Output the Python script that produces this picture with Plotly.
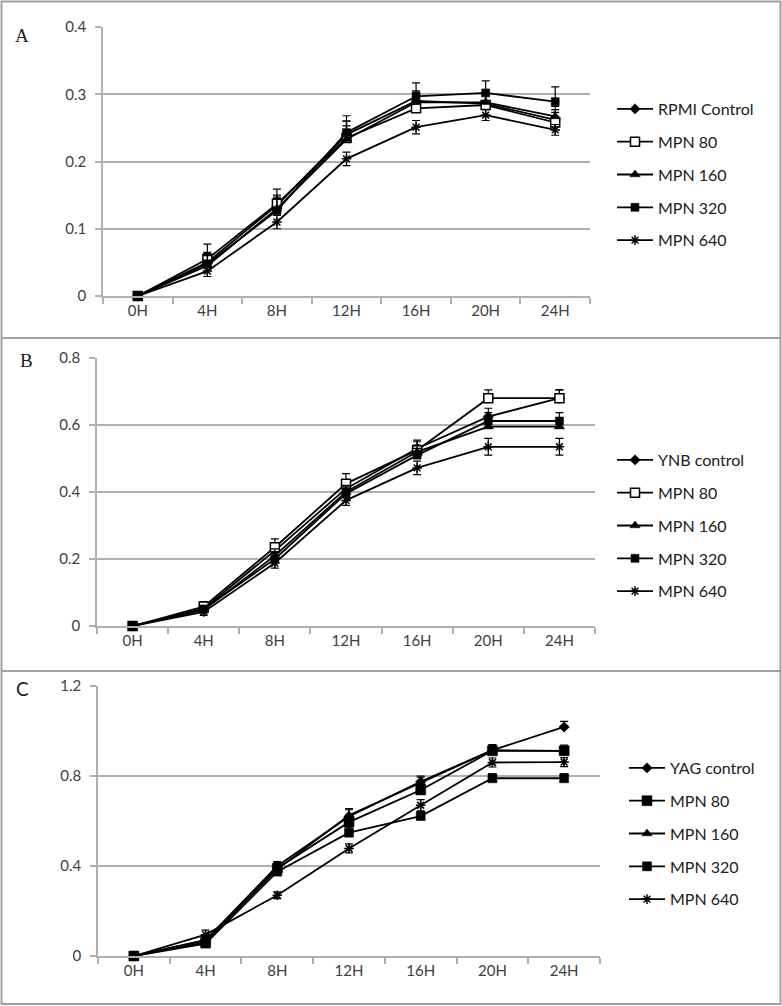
import plotly.graph_objects as go

W, H = 782, 1006
hours = ["0H", "4H", "8H", "12H", "16H", "20H", "24H"]

# Panel A (RPMI)
a_names = ["RPMI Control", "MPN 80", "MPN 160", "MPN 320", "MPN 640"]
a_vals = [
    [0, 0.050, 0.135, 0.240, 0.290, 0.286, 0.262],
    [0, 0.055, 0.137, 0.235, 0.279, 0.284, 0.258],
    [0, 0.045, 0.130, 0.233, 0.288, 0.288, 0.267],
    [0, 0.048, 0.127, 0.243, 0.297, 0.302, 0.289],
    [0, 0.037, 0.110, 0.204, 0.251, 0.269, 0.247],
]
a_err = [
    [0, 0.015, 0.015, 0.020, 0.015, 0.015, 0.015],
    [0, 0.022, 0.022, 0.025, 0.020, 0.015, 0.015],
    [0, 0.015, 0.015, 0.020, 0.015, 0.015, 0.015],
    [0, 0.015, 0.020, 0.025, 0.020, 0.018, 0.022],
    [0, 0.008, 0.010, 0.010, 0.010, 0.008, 0.008],
]

# Panel B (YNB)
b_names = ["YNB control", "MPN 80", "MPN 160", "MPN 320", "MPN 640"]
b_vals = [
    [0, 0.052, 0.225, 0.410, 0.530, 0.625, 0.680],
    [0, 0.058, 0.235, 0.425, 0.525, 0.680, 0.680],
    [0, 0.048, 0.210, 0.400, 0.520, 0.595, 0.595],
    [0, 0.050, 0.200, 0.395, 0.510, 0.612, 0.612],
    [0, 0.042, 0.188, 0.375, 0.472, 0.535, 0.535],
]
b_err = [
    [0, 0.015, 0.020, 0.025, 0.025, 0.025, 0.025],
    [0, 0.015, 0.025, 0.030, 0.025, 0.025, 0.025],
    [0, 0.012, 0.020, 0.020, 0.020, 0.020, 0.020],
    [0, 0.012, 0.020, 0.020, 0.020, 0.025, 0.025],
    [0, 0.010, 0.015, 0.015, 0.020, 0.025, 0.025],
]

# Panel C (YAG)
c_names = ["YAG control", "MPN 80", "MPN 160", "MPN 320", "MPN 640"]
c_vals = [
    [0, 0.070, 0.400, 0.620, 0.775, 0.915, 1.018],
    [0, 0.060, 0.390, 0.595, 0.738, 0.912, 0.912],
    [0, 0.070, 0.385, 0.625, 0.770, 0.915, 0.912],
    [0, 0.055, 0.375, 0.548, 0.622, 0.790, 0.790],
    [0, 0.095, 0.270, 0.478, 0.670, 0.860, 0.862],
]
c_err = [
    [0, 0.020, 0.020, 0.030, 0.025, 0.025, 0.025],
    [0, 0.015, 0.025, 0.030, 0.025, 0.025, 0.025],
    [0, 0.015, 0.020, 0.030, 0.025, 0.020, 0.020],
    [0, 0.015, 0.020, 0.025, 0.020, 0.020, 0.020],
    [0, 0.020, 0.015, 0.020, 0.025, 0.020, 0.020],
]

a_markers = [("diamond", 8, "black"), ("square", 9, "white"), ("triangle-up", 9, "black"),
             ("square", 8, "black"), ("asterisk-open", 8, "black")]
b_markers = a_markers
c_markers = [("diamond", 8, "black"), ("square", 10, "black"), ("triangle-up", 9, "black"),
             ("square", 9, "black"), ("asterisk-open", 8, "black")]

TXT = "Lato"
TICKC = "#404040"
GRID = "#b0b0b0"

fig = go.Figure()

def px_x(p):
    return p / W

def px_y(p):
    return 1 - p / H

panels = [
    ("", a_names, a_vals, a_err, a_markers, (103, 590), (27, 296), [0, 0.4], 0.1, "legend", (612, 92)),
    ("2", b_names, b_vals, b_err, b_markers, (97, 595), (358, 626), [0, 0.8], 0.2, "legend2", (612, 443)),
    ("3", c_names, c_vals, c_err, c_markers, (98, 600), (686, 956), [0, 1.2], 0.4, "legend3", (624, 751)),
]

for suf, names, vals, errs, mks, xd, yd, yr, dt, leg, lpos in panels:
    for i, (nm, v, e, mk) in enumerate(zip(names, vals, errs, mks)):
        sym, sz, fill = mk
        is_star = sym.startswith("asterisk")
        fig.add_trace(go.Scatter(
            x=hours, y=v, name=nm, mode="lines+markers",
            xaxis="x" + suf, yaxis="y" + suf,
            legend=leg, legendgroup=leg + str(i),
            line=dict(color="black", width=1.8),
            marker=dict(symbol=sym, size=sz, color=fill,
                        line=dict(color="black", width=1.5 if (is_star or fill == "white") else 0.5)),
            error_y=dict(type="data", array=e, symmetric=False if not is_star else True,
                         arrayminus=[0] * len(e) if not is_star else None,
                         color="black", thickness=1.2, width=4),
            cliponaxis=False,
        ))
    fig.layout["xaxis" + suf] = dict(
        domain=[px_x(xd[0]), px_x(xd[1])], anchor="y" + suf, type="category",
        range=[-0.5, 6.5], tickson="boundaries", ticks="outside", ticklen=6,
        tickcolor=GRID, tickwidth=1.5, showline=True, linecolor=GRID, linewidth=1.5,
        showgrid=False, zeroline=False, fixedrange=True, automargin=False,
        tickfont=dict(family=TXT, size=15, color=TICKC),
    )
    fig.layout["yaxis" + suf] = dict(
        domain=[px_y(yd[1]), px_y(yd[0])], anchor="x" + suf, range=yr, dtick=dt,
        ticks="outside", ticklen=6, tickcolor=GRID, tickwidth=1.5,
        showline=True, linecolor=GRID, linewidth=1.5, automargin=False,
        showgrid=True, gridcolor=GRID, gridwidth=1.5, zeroline=False,
        ticklabelstandoff=6,
        tickfont=dict(family=TXT, size=15, color=TICKC),
    )
    fig.layout[leg] = dict(
        x=px_x(lpos[0]), y=px_y(lpos[1]), xanchor="left", yanchor="top",
        bgcolor="rgba(0,0,0,0)", tracegroupgap=9, itemwidth=36,
        font=dict(family=TXT, size=16, color="#202020"),
    )

# panel labels
for lab, lx, ly, fam in (("A", 22, 35, "Liberation Serif"), ("B", 26, 360, "Liberation Serif"),
                         ("C", 22, 688, TXT)):
    fig.add_annotation(x=px_x(lx), y=px_y(ly), xref="paper", yref="paper", text=lab,
                       showarrow=False, xanchor="center", yanchor="middle",
                       font=dict(family=fam, size=19, color="#202020"))

# borders
BORDER = "#a0a0a0"
fig.add_shape(type="rect", xref="paper", yref="paper", x0=px_x(1.5), x1=px_x(780.5),
              y0=px_y(1004), y1=px_y(1.5), line=dict(color=BORDER, width=2))
for yy in (338, 671):
    fig.add_shape(type="line", xref="paper", yref="paper", x0=px_x(1.5), x1=px_x(780.5),
                  y0=px_y(yy), y1=px_y(yy), line=dict(color=BORDER, width=2))

fig.update_layout(
    width=W, height=H, margin=dict(l=0, r=0, t=0, b=0, autoexpand=False),
    paper_bgcolor="white", plot_bgcolor="white",
)

fig.write_html(
    "out.html",
    config={"displayModeBar": False},
    post_script="document.body.style.margin='0';document.body.style.padding='0';",
)
